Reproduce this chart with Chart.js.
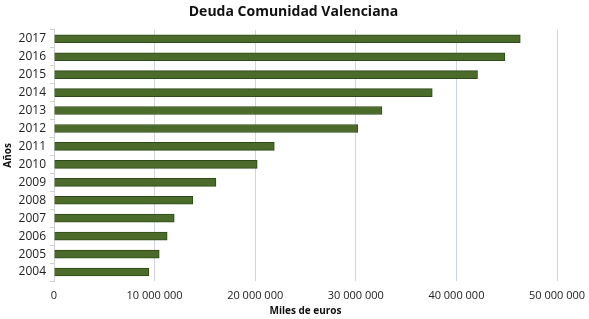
<!DOCTYPE html>
<html>
<head>
<meta charset="utf-8">
<script src="https://cdn.jsdelivr.net/npm/chart.js@4.4.1/dist/chart.umd.min.js"></script>
<style>
  html, body { margin: 0; padding: 0; background: #fff; }
  #wrap { width: 589px; height: 319px; }
</style>
</head>
<body>
<div id="wrap"><canvas id="c"></canvas></div>
<script>
const years = ['2017', '2016', '2015', '2014', '2013', '2012', '2011', '2010', '2009', '2008', '2007', '2006', '2005', '2004'];
const deuda = [46350000, 44800000, 42100000, 37600000, 32600000, 30200000, 21900000, 20200000, 16100000, 13800000, 11950000, 11250000, 10460000, 9430000];
const xTicks = [0, 10000000, 20000000, 30000000, 40000000, 50000000];

function fmt(v){
  return String(v).replace(/\B(?=(\d{3})+(?!\d))/g, ' ');
}

Chart.defaults.font.family = '"Open Sans", sans-serif';
Chart.defaults.color = '#222';

new Chart(document.getElementById('c').getContext('2d'), {
  type: 'bar',
  data: {
    labels: years,
    datasets: [{
      label: 'Deuda',
      data: deuda,
      backgroundColor: '#4a6b2a',
      borderColor: '#2f4a1a',
      borderWidth: 1,
      barThickness: 8
    }]
  },
  options: {
    indexAxis: 'y',
    responsive: true,
    maintainAspectRatio: false,
    animation: false,
    layout: {padding: {left: 2, right: 4, top: 0, bottom: 2}},
    plugins: {
      legend: {display: false},
      tooltip: {enabled: false},
      title: {
        display: true,
        text: 'Deuda Comunidad Valenciana',
        font: {size: 14, weight: 'bold'},
        color: '#111',
        padding: {top: 4, bottom: 9}
      }
    },
    scales: {
      x: {
        min: 0,
        max: 50000000,
        afterBuildTicks: s => { s.ticks = xTicks.map(v => ({value: v})); },
        afterFit: s => { s.height = 36; s.paddingRight = 32; },
        ticks: {
          callback: v => fmt(v),
          font: {size: 11},
          padding: 8,
          maxRotation: 0
        },
        grid: {color: '#cfd6e0', drawTicks: false},
        border: {display: false},
        title: {display: true, text: 'Miles de euros', font: {size: 10, weight: 'bold'}, color: '#111', padding: {top: 2, bottom: 0}}
      },
      y: {
        afterFit: s => { s.width = 52; },
        ticks: {font: {size: 12}, padding: 4},
        grid: {display: true, drawOnChartArea: false, drawTicks: true, tickLength: 4, color: '#d0d0d0'},
        border: {display: true, color: '#d0d0d0'},
        title: {display: true, text: 'Años', font: {size: 10, weight: 'bold'}, color: '#111', padding: {top: 0, bottom: 2}}
      }
    }
  }
});
</script>
</body>
</html>
